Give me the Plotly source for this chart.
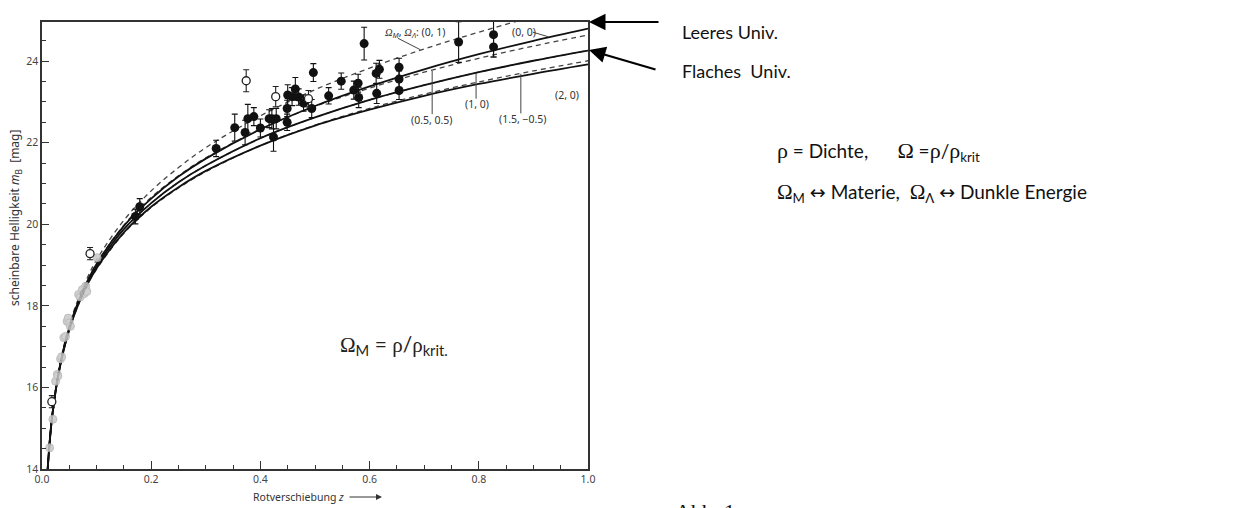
import plotly.graph_objects as go

# ---------------- data ----------------
z_model = [0.01, 0.015, 0.02, 0.03, 0.04, 0.05, 0.06, 0.08, 0.1, 0.15, 0.2, 0.25,
           0.3, 0.4, 0.5, 0.6, 0.7, 0.8, 0.9, 1.0]
m_00 = [13.93, 14.82, 15.45, 16.34, 16.97, 17.47, 17.88, 18.52, 19.03, 19.96, 20.63, 21.17,
        21.61, 22.33, 22.90, 23.38, 23.80, 24.17, 24.50, 24.80]
m_01 = [13.94, 14.83, 15.47, 16.37, 17.02, 17.52, 17.94, 18.60, 19.13, 20.10, 20.82, 21.39,
        21.88, 22.66, 23.30, 23.83, 24.30, 24.71, 25.09, 25.43]
m_10 = [13.93, 14.81, 15.44, 16.32, 16.95, 17.44, 17.84, 18.48, 18.97, 19.88, 20.52, 21.03,
        21.44, 22.11, 22.62, 23.05, 23.41, 23.73, 24.01, 24.26]
m_20 = [13.92, 14.80, 15.43, 16.31, 16.93, 17.41, 17.81, 18.44, 18.92, 19.80, 20.43, 20.91,
        21.31, 21.93, 22.42, 22.81, 23.15, 23.44, 23.69, 23.92]
m_0505 = [13.93, 14.82, 15.45, 16.35, 16.98, 17.48, 17.89, 18.54, 19.04, 19.98, 20.66, 21.19,
          21.63, 22.33, 22.89, 23.34, 23.73, 24.07, 24.37, 24.64]
m_15m05 = [13.92, 14.80, 15.42, 16.30, 16.92, 17.41, 17.80, 18.42, 18.90, 19.78, 20.41, 20.89,
           21.29, 21.93, 22.43, 22.84, 23.19, 23.49, 23.76, 24.01]

# low-z (grey) supernovae
z_low = [0.014, 0.020, 0.025, 0.028, 0.029, 0.034, 0.036, 0.040, 0.043, 0.046, 0.048, 0.050,
         0.052, 0.067, 0.070, 0.074, 0.077, 0.080, 0.082, 0.101]
m_low = [14.52, 15.22, 16.15, 16.32, 16.28, 16.70, 16.75, 17.22, 17.25, 17.62, 17.70, 17.58,
         17.50, 18.28, 18.22, 18.40, 18.30, 18.48, 18.35, 19.18]

# open circles
z_open = [0.018, 0.088, 0.374, 0.428, 0.488]
m_open = [15.65, 19.28, 23.52, 23.13, 23.08]
e_open = [0.15, 0.15, 0.27, 0.25, 0.20]

# filled circles (high-z supernovae)
z_hi = [0.171, 0.179, 0.319, 0.353, 0.372, 0.377, 0.388, 0.400, 0.416, 0.421, 0.429, 0.424,
        0.449, 0.449, 0.450, 0.458, 0.464, 0.470, 0.479, 0.494, 0.497, 0.525, 0.548, 0.571,
        0.579, 0.580, 0.590, 0.612, 0.618, 0.613, 0.654, 0.654, 0.654, 0.763, 0.827, 0.827]
m_hi = [20.19, 20.43, 21.86, 22.37, 22.25, 22.59, 22.64, 22.36, 22.59, 22.59, 22.59, 22.14,
        22.50, 22.84, 23.17, 23.13, 23.32, 23.12, 22.97, 22.84, 23.72, 23.15, 23.51, 23.29,
        23.46, 23.11, 24.43, 23.70, 23.80, 23.21, 23.85, 23.56, 23.28, 24.47, 24.65, 24.35]
e_hi = [0.18, 0.20, 0.20, 0.33, 0.30, 0.35, 0.22, 0.22, 0.22, 0.25, 0.25, 0.35,
        0.20, 0.20, 0.25, 0.22, 0.28, 0.20, 0.20, 0.22, 0.22, 0.20, 0.20, 0.22,
        0.22, 0.25, 0.40, 0.25, 0.22, 0.25, 0.22, 0.20, 0.22, 0.50, 0.55, 0.25]

x_ticks = [0.0, 0.2, 0.4, 0.6, 0.8, 1.0]
x_ticklabels = ["0.0", "0.2", "0.4", "0.6", "0.8", "1.0"]
y_ticks = [14, 16, 18, 20, 22, 24]

# ---------------- figure ----------------
W, H = 1237, 508
L, R, T = 42, 649, 22
PW, PH = W - L - R, 447
B = H - T - PH


def px(xp):
    return (xp - L) / PW


def py(yp):
    return (H - B - yp) / PH


fig = go.Figure()

solid = dict(color="#111111", width=1.8)
dashed = dict(color="#444444", width=1.3, dash="5px,4px")

for ys, ln in [(m_01, dashed), (m_0505, dashed), (m_10, dashed), (m_15m05, dashed),
               (m_00, solid), (m_10, solid), (m_20, solid)]:
    fig.add_trace(go.Scatter(x=z_model, y=ys, mode="lines", line=dict(shape="spline", **ln),
                             hoverinfo="skip", showlegend=False))

fig.add_trace(go.Scatter(x=z_low, y=m_low, mode="markers",
                         marker=dict(size=8, color="#c8c8c8", line=dict(color="#b4b4b4", width=1)),
                         opacity=0.85, showlegend=False))

fig.add_trace(go.Scatter(x=z_hi, y=m_hi, mode="markers",
                         error_y=dict(type="data", array=e_hi, color="#111111", thickness=1.1, width=3),
                         marker=dict(size=9, color="#111111"), cliponaxis=False, showlegend=False))

fig.add_trace(go.Scatter(x=z_open, y=m_open, mode="markers",
                         error_y=dict(type="data", array=e_open, color="#222222", thickness=1.1, width=3),
                         marker=dict(size=8, color="white", line=dict(color="#222222", width=1.3)),
                         cliponaxis=False, showlegend=False))

serif = "Liberation Serif"


def sym(c, italic=False, size=None, family=serif):
    st = "font-family:%s" % family
    if size:
        st += ";font-size:%spx" % size
    s = '<span style="%s">%s</span>' % (st, c)
    return "<i>" + s + "</i>" if italic else s


ann = []
lab_font = dict(family="Noto Sans", size=10.5, color="#333333")


def dlab(x, y, text, xanchor="center"):
    ann.append(dict(x=x, y=y, xref="x", yref="y", xanchor=xanchor, yanchor="middle",
                    showarrow=False, text=text, font=lab_font))


# curve labels (data coordinates)
dlab(0.625, 24.71, sym("Ω", True) + "<sub><i>M</i></sub>, " + sym("Ω", True) + "<sub><i>Λ</i></sub>: (0, 1)",
     "left")
dlab(0.857, 24.71, "(0, 0)", "left")
dlab(0.715, 22.56, "(0.5, 0.5)")
dlab(0.797, 22.95, "(1, 0)")
dlab(0.881, 22.59, "(1.5, −0.5)")
dlab(0.962, 23.17, "(2, 0)")

shapes = []
lc = dict(color="#444444", width=1)
shapes.append(dict(type="line", xref="x", yref="y", x0=0.652, y0=24.56, x1=0.693, y1=24.28, line=lc))
shapes.append(dict(type="line", xref="x", yref="y", x0=0.899, y0=24.71, x1=0.927, y1=24.60, line=lc))
shapes.append(dict(type="line", xref="x", yref="y", x0=0.7146, y0=22.70, x1=0.7146, y1=23.76, line=lc))
shapes.append(dict(type="line", xref="x", yref="y", x0=0.795, y0=23.08, x1=0.795, y1=23.70, line=lc))
shapes.append(dict(type="line", xref="x", yref="y", x0=0.877, y0=22.72, x1=0.877, y1=23.69, line=lc))


def plab(xp, yp, text, font, xanchor="left", yanchor="middle", **kw):
    ann.append(dict(x=px(xp), y=py(yp), xref="paper", yref="paper", xanchor=xanchor,
                    yanchor=yanchor, showarrow=False, text=text, font=font, **kw))


# inside formula
plab(338, 345, sym("Ω") + "<sub>M</sub> = " + sym("ρ") + "/" + sym("ρ") + "<sub>krit.</sub>",
     dict(family="Lato", size=21, color="#222222"))

# axis titles
plab(15, 218, "scheinbare Helligkeit <i>m</i><sub>B</sub>  [mag]",
     dict(family="Noto Sans", size=12, color="#333333"), xanchor="center", textangle=-90)
plab(298, 497, "Rotverschiebung <i>z</i>", dict(family="Noto Sans", size=10.5, color="#333333"),
     xanchor="center")
ann.append(dict(x=px(382), y=py(497), xref="paper", yref="paper", ax=-34, ay=0, text="",
                showarrow=True, arrowhead=2, arrowsize=1.2, arrowwidth=1, arrowcolor="#333333"))

# right-side explanations
ann.append(dict(x=px(589), y=py(22), xref="paper", yref="paper", ax=71, ay=0, text="",
                showarrow=True, arrowhead=2, arrowsize=1.5, arrowwidth=2.2, arrowcolor="#000000"))
ann.append(dict(x=px(589), y=py(50), xref="paper", yref="paper", ax=68, ay=20, text="",
                showarrow=True, arrowhead=2, arrowsize=1.5, arrowwidth=2.2, arrowcolor="#000000"))
big = dict(family="Lato", size=18, color="#111111")
big2 = dict(family="Lato", size=19, color="#111111")
arrow_lr = sym("↔", family="DejaVu Sans")
plab(680, 32, "Leeres Univ.", big)
plab(680, 71, "Flaches\u00a0 Univ.", big)
plab(775, 152, sym("ρ", size=22) + "\u00a0=\u00a0Dichte,\u00a0\u00a0\u00a0\u00a0\u00a0 " + sym("Ω", size=22)
     + "\u00a0=" + sym("ρ", size=22) + "/" + sym("ρ", size=22) + "<sub>krit</sub>", big2)
plab(775, 193, sym("Ω", size=21) + "<sub>M</sub> " + arrow_lr + " Materie,\u00a0 " + sym("Ω", size=21)
     + "<sub>Λ</sub> " + arrow_lr + " Dunkle Energie", big2)
plab(673, 497, "Abb. 1", dict(family="Liberation Serif", size=22, color="#111111"), yanchor="top")

fig.update_layout(
    width=W, height=H,
    margin=dict(l=L, r=R, t=T, b=B, pad=0),
    paper_bgcolor="white", plot_bgcolor="white",
    annotations=ann, shapes=shapes, showlegend=False,
    xaxis=dict(range=[0, 1.0], tickvals=x_ticks, ticktext=x_ticklabels, ticks="inside", ticklen=8,
               tickcolor="#333333", showline=True, mirror=True, linecolor="#333333", linewidth=1.5,
               showgrid=False, zeroline=False,
               tickfont=dict(family="Noto Sans", size=10.5, color="#444444"),
               minor=dict(dtick=0.05, ticks="inside", ticklen=4, tickcolor="#333333", showgrid=False)),
    yaxis=dict(range=[14, 24.96], tickvals=y_ticks, ticks="inside", ticklen=7,
               tickcolor="#333333", showline=True, mirror=True, linecolor="#333333", linewidth=1.5,
               showgrid=False, zeroline=False,
               tickfont=dict(family="Noto Sans", size=10.5, color="#444444"),
               minor=dict(dtick=0.5, ticks="inside", ticklen=4, tickcolor="#333333", showgrid=False)),
)

# remove the default 8px page margin so the figure starts at the window corner
fig.write_html("out.html", config={"displayModeBar": False},
               post_script="document.body.style.margin='0px';")
